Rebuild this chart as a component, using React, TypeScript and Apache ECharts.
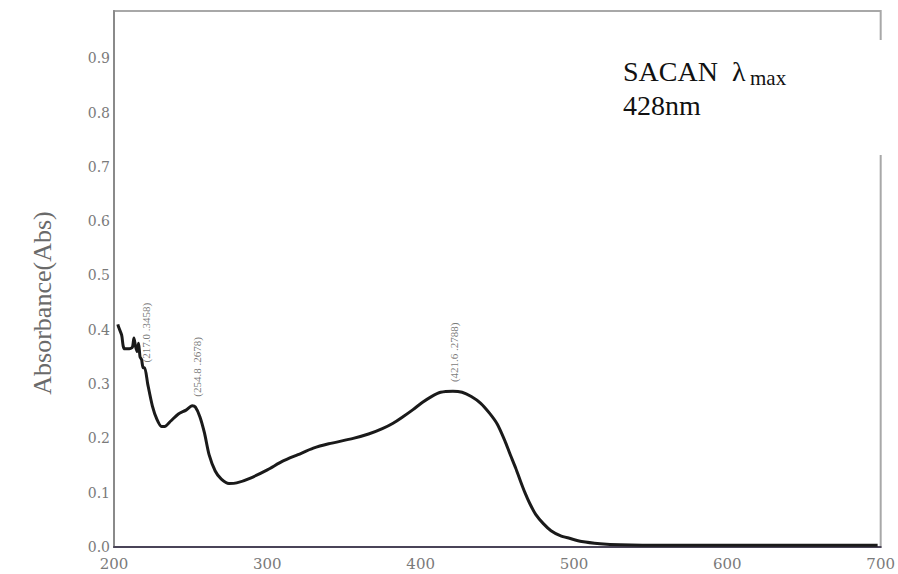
import React, { useEffect, useRef } from "react";
import * as echarts from "echarts";

const wavelengths = [
  202.5, 203, 205, 206, 207, 210, 212, 213, 214, 215, 216, 217, 218, 219, 220, 222, 225, 228, 231, 233,
  237, 242, 247, 251, 253, 256, 259, 262, 266, 270, 275, 280, 289, 300, 310, 320, 330, 340, 356, 366,
  375, 382, 388, 395, 401, 407, 413, 421, 427, 433, 439, 445, 450, 455, 458, 462, 465, 468, 471, 475,
  480, 485, 491, 497, 505, 517, 530, 560, 600, 650, 698,
];
const absorbance = [
  0.41, 0.405, 0.39, 0.37, 0.365, 0.365, 0.368, 0.385, 0.37, 0.36, 0.375, 0.35, 0.345, 0.33, 0.33, 0.3, 0.26, 0.235, 0.222, 0.222,
  0.232, 0.245, 0.252, 0.26, 0.258, 0.24, 0.21, 0.17, 0.14, 0.125, 0.117, 0.118, 0.127, 0.142, 0.158, 0.17, 0.182, 0.19, 0.2, 0.208,
  0.218, 0.228, 0.239, 0.253, 0.266, 0.277, 0.285, 0.287, 0.285, 0.277, 0.265, 0.246, 0.226, 0.195, 0.173, 0.145, 0.122, 0.1, 0.081, 0.06,
  0.043, 0.03, 0.021, 0.016, 0.01, 0.006, 0.004, 0.003, 0.003, 0.003, 0.003,
];

const peakWavelengths = [221, 254, 422];
const peakValues = [0.325, 0.262, 0.289];
const peakLabels = ["(217.0 .3458)", "(254.8 .2678)", "(421.6 .2788)"];

const xTicks = [200, 300, 400, 500, 600, 700];
const yTickLabels = ["0.0", "0.1", "0.2", "0.3", "0.4", "0.5", "0.6", "0.7", "0.8", "0.9"];

const annotationLine1 = "SACAN  λ";
const annotationSub = "max";
const annotationLine2 = "428nm";
const yAxisTitle = "Absorbance(Abs)";

export default function App() {
  const ref = useRef<HTMLDivElement>(null);
  useEffect(() => {
    if (!ref.current) return;
    const chart = echarts.init(ref.current, null, { renderer: "svg" });
    const serif = "'Liberation Serif', 'Times New Roman', serif";
    const wideSerif = "'DejaVu Serif', serif";
    chart.setOption({
      animation: false,
      backgroundColor: "#ffffff",
      grid: {
        left: 114,
        right: 17,
        top: 11,
        bottom: 27,
        show: true,
        borderColor: "#a8a8a8",
        borderWidth: 2,
        backgroundColor: "transparent",
      },
      xAxis: {
        type: "value",
        min: xTicks[0],
        max: xTicks[xTicks.length - 1],
        interval: 100,
        axisLine: { show: true, lineStyle: { color: "#4a4458", width: 2 } },
        axisTick: { show: false },
        splitLine: { show: false },
        axisLabel: {
          color: "#7a7a7a",
          fontFamily: wideSerif,
          fontSize: 15,
          margin: 9,
        },
      },
      yAxis: {
        type: "value",
        min: 0,
        max: 0.987,
        interval: 0.1,
        axisLine: { show: true, lineStyle: { color: "#8a8a8a", width: 2 } },
        axisTick: { show: false },
        splitLine: { show: false },
        axisLabel: {
          color: "#7a7a7a",
          fontFamily: wideSerif,
          fontSize: 14,
          margin: 4,
          showMaxLabel: false,
          formatter: (v: number) => {
            const i = Math.round(v * 10);
            return yTickLabels[i] ?? "";
          },
        },
      },
      series: [
        {
          type: "line",
          data: wavelengths.map((w, i) => [w, absorbance[i]]),
          showSymbol: false,
          smooth: 0.25,
          lineStyle: { color: "#1a1a1a", width: 3 },
          z: 5,
        },
        {
          type: "scatter",
          data: peakWavelengths.map((w, i) => [w, peakValues[i]]),
          symbolSize: 0,
          silent: true,
          label: {
            show: true,
            position: "top",
            distance: 8,
            rotate: 90,
            align: "left",
            verticalAlign: "middle",
            fontSize: 11,
            fontFamily: serif,
            color: "#555555",
            formatter: (p: any) => peakLabels[p.dataIndex],
          },
        },
      ],
      graphic: [
        {
          type: "text",
          x: 42,
          y: 303,
          rotation: Math.PI / 2,
          style: {
            text: yAxisTitle,
            font: `26px ${serif}`,
            fill: "#6a6a6a",
            textAlign: "center",
            textVerticalAlign: "middle",
          },
        },
        {
          type: "rect",
          shape: { x: 600, y: 40, width: 292, height: 115 },
          style: { fill: "#ffffff" },
          z: 100,
        },
        {
          type: "text",
          x: 623,
          y: 57,
          z: 101,
          style: {
            text: annotationLine1,
            font: `28px ${serif}`,
            fill: "#111111",
            textVerticalAlign: "top",
          },
        },
        {
          type: "text",
          x: 750,
          y: 67,
          z: 101,
          style: {
            text: annotationSub,
            font: `21px ${serif}`,
            fill: "#111111",
            textVerticalAlign: "top",
          },
        },
        {
          type: "text",
          x: 623,
          y: 91,
          z: 101,
          style: {
            text: annotationLine2,
            font: `28px ${serif}`,
            fill: "#111111",
            textVerticalAlign: "top",
          },
        },
      ],
    });
    return () => chart.dispose();
  }, []);
  return <div ref={ref} style={{ width: 898, height: 574, position: "absolute", left: 0, top: 0 }} />;
}
